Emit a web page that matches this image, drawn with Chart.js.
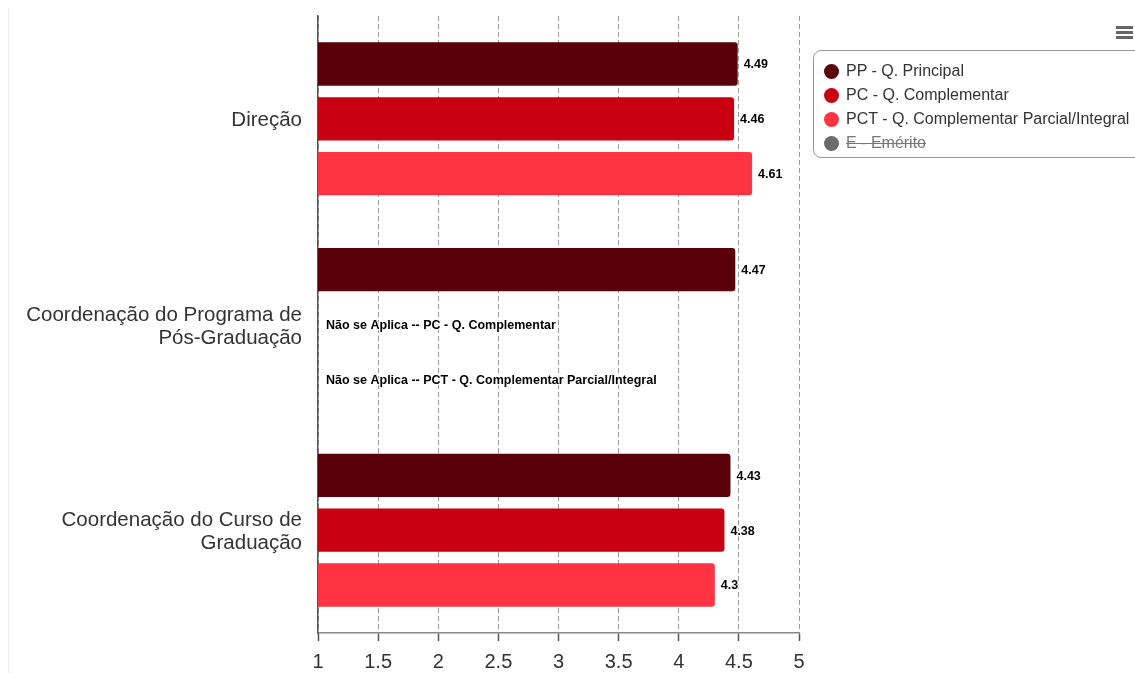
<!DOCTYPE html>
<html>
<head>
<meta charset="utf-8">
<script src="https://cdn.jsdelivr.net/npm/chart.js@4"></script>
<style>
    body { margin: 0; background: #fff; font-family: "Liberation Sans", Arial, sans-serif; }
    #wrap { position: relative; width: 1135px; height: 673px; overflow: hidden; }
    #edge { position: absolute; left: 8px; top: 8px; bottom: 0; border-left: 1px solid #eee; }
    #legend { position: absolute; left: 813px; top: 50px; width: 330px; height: 108px; border: 1px solid #999; border-radius: 8px; box-sizing: border-box; padding-top: 8px; }
    .item { height: 24px; display: flex; align-items: center; font-size: 16px; color: #333; padding-left: 10px; }
    .dot { width: 15px; height: 15px; border-radius: 50%; margin-right: 7px; }
    .off { color: #777; text-decoration: line-through; }
    #menu { position: absolute; left: 1116px; top: 26px; width: 17px; }
    #menu div { height: 3px; background: #666; margin-bottom: 2px; }
</style>
</head>
<body>
<div id="wrap">
    <div id="edge"></div>
    <canvas id="grafico"></canvas>
    <div id="legend"></div>
    <div id="menu"><div></div><div></div><div></div></div>
</div>
<script>
    // Categorias e séries
    const categorias = ['Direção', ['Coordenação do Programa de', 'Pós-Graduação'], ['Coordenação do Curso de', 'Graduação']];
    const nomesSeries = ['PP - Q. Principal', 'PC - Q. Complementar', 'PCT - Q. Complementar Parcial/Integral', 'E - Emérito'];
    const valoresPP = [4.49, 4.47, 4.43];
    const valoresPC = [4.46, null, 4.38];
    const valoresPCT = [4.61, null, 4.3];
    const valoresE = [null, null, null];
    const cores = ['#590008', '#c80012', '#ff3341', '#6b6b6b'];
    const ocultos = [false, false, false, true];
    const ticksX = [1, 1.5, 2, 2.5, 3, 3.5, 4, 4.5, 5];

    const todasSeries = [valoresPP, valoresPC, valoresPCT, valoresE];

    // Rótulos de valor e "Não se Aplica"
    const rotulos = {
        id: 'rotulos',
        afterDatasetsDraw(chart) {
            const c = chart.ctx;
            c.save();
            c.font = 'bold 12.5px "Liberation Sans", Arial, sans-serif';
            c.textBaseline = 'middle';
            c.lineJoin = 'round';
            chart.data.datasets.forEach((ds, i) => {
                const meta = chart.getDatasetMeta(i);
                if (!chart.isDatasetVisible(i)) return;
                meta.data.forEach((bar, j) => {
                    const v = ds.data[j];
                    let txt, x;
                    if (v == null) {
                        txt = 'Não se Aplica -- ' + ds.label;
                        x = chart.chartArea.left + 8;
                    } else {
                        txt = String(v);
                        x = bar.x + 6;
                    }
                    c.strokeStyle = '#fff';
                    c.lineWidth = 2.5;
                    c.strokeText(txt, x, bar.y + 1);
                    c.fillStyle = '#000';
                    c.fillText(txt, x, bar.y + 1);
                });
            });
            c.restore();
        }
    };

    const ctx = document.getElementById('grafico').getContext('2d');
    const grafico = new Chart(ctx, {
        type: 'bar',
        data: {
            labels: categorias,
            datasets: todasSeries.map((d, i) => ({
                label: nomesSeries[i],
                data: d,
                backgroundColor: cores[i],
                borderColor: cores[i],
                borderWidth: 0,
                borderRadius: 3,
                borderSkipped: false,
                barPercentage: 0.79,
                categoryPercentage: 0.8,
                hidden: ocultos[i]
            }))
        },
        options: {
            indexAxis: 'y',
            responsive: true,
            maintainAspectRatio: false,
            animation: false,
            layout: { padding: { top: 16, right: 336, left: 0, bottom: 0 } },
            plugins: {
                legend: { display: false },
                tooltip: { enabled: false }
            },
            scales: {
                x: {
                    min: 1,
                    max: 5,
                    afterBuildTicks: (s) => { s.ticks = ticksX.map(v => ({ value: v })); },
                    afterFit: (s) => { s.height = 40; s.paddingLeft = 0; s.paddingRight = 0; },
                    grid: {
                        color: '#999',
                        tickColor: '#555',
                        tickLength: 8,
                        tickWidth: 1.5
                    },
                    border: { color: '#888', width: 1.5, dash: [5, 3] },
                    ticks: {
                        color: '#333',
                        padding: 9,
                        callback: (v) => String(v),
                        font: { size: 20, family: '"Liberation Sans", Arial, sans-serif' }
                    }
                },
                y: {
                    afterFit: (s) => { s.width = 318; s.paddingTop = 0; s.paddingBottom = 0; },
                    grid: { display: false, drawTicks: false },
                    border: { color: '#555', width: 1.5 },
                    ticks: {
                        color: '#333',
                        padding: 16,
                        labelOffset: 2,
                        font: { size: 20.5, family: '"Liberation Sans", Arial, sans-serif', lineHeight: 1.12 }
                    }
                }
            }
        },
        plugins: [rotulos]
    });

    // Legenda
    const legenda = document.getElementById('legend');
    nomesSeries.forEach((nome, i) => {
        const item = document.createElement('div');
        item.className = 'item';
        item.innerHTML = '<span class="dot" style="background:' + cores[i] + '"></span><span class="' + (ocultos[i] ? 'off' : '') + '">' + nome + '</span>';
        legenda.appendChild(item);
    });
</script>
</body>
</html>
